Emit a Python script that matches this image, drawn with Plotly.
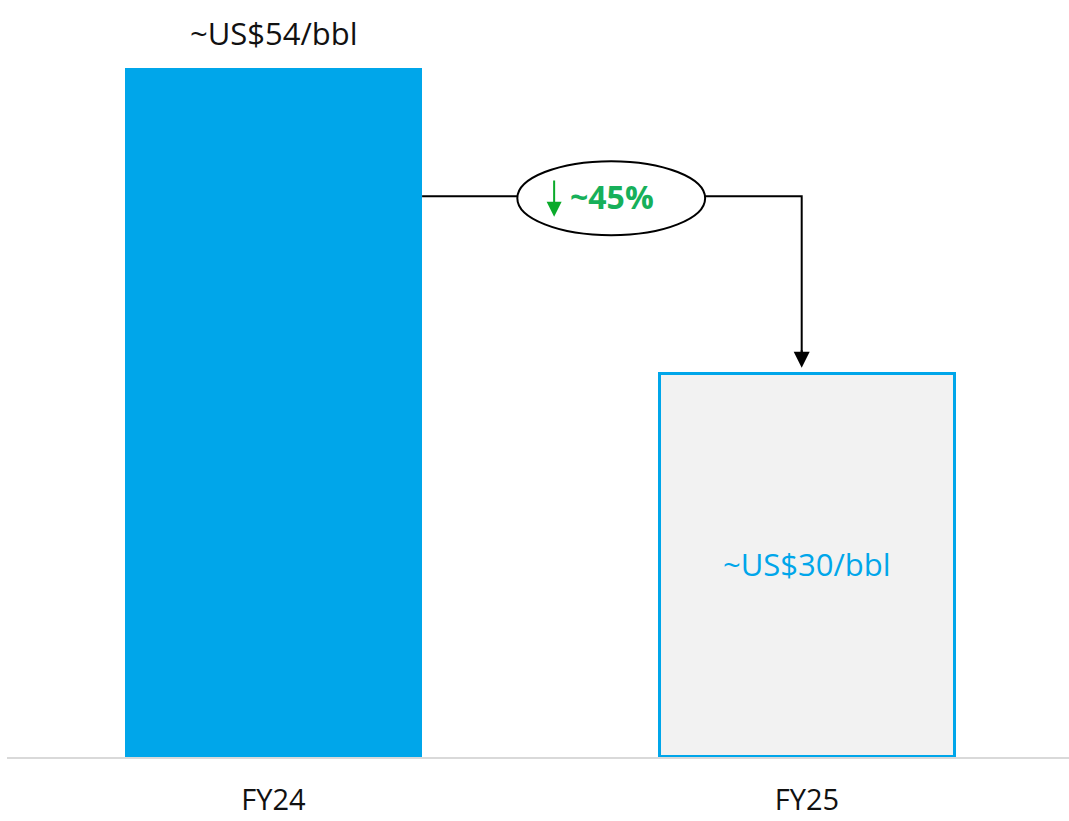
import plotly.graph_objects as go

# Realised price per barrel by fiscal year
years = ["FY24", "FY25"]
prices = [54, 30]
price_labels = ["~US$54/bbl", "~US$30/bbl"]
change_label = "~45%"

BLUE = "#00A6EA"
GREEN_TXT = "#17B05A"
GREEN_ARROW = "#0AAA2A"
FONT = "Open Sans, Noto Sans, sans-serif"

bar_width = 0.557
connector_y = 43.95     # height of the bracket linking the two bars
bracket_x = 0.99        # where the bracket drops onto the FY25 bar
pill_x, pill_w, pill_h = 0.633, 0.352, 5.8

fig = go.Figure()

fig.add_trace(go.Bar(
    x=years, y=prices, width=[bar_width, bar_width - 0.004],
    marker=dict(color=[BLUE, "#F2F2F2"],
                line=dict(color=[BLUE, BLUE], width=[0, 3])),
    hoverinfo="skip", showlegend=False,
))

# Labels: above the first bar, inside the second bar
fig.add_annotation(x=0, y=prices[0], text=price_labels[0], showarrow=False,
                   yanchor="bottom", yshift=12, font=dict(size=31, color="#111111", family=FONT))
fig.add_annotation(x=1, y=prices[1] * 0.505, text=price_labels[1], showarrow=False,
                   font=dict(size=31, color=BLUE, family=FONT))

# Bracket from FY24 bar to FY25 bar
x0 = bar_width / 2
fig.add_shape(type="path", xref="x", yref="y",
              path=f"M {x0},{connector_y} L {bracket_x},{connector_y} L {bracket_x},{prices[1] + 1.2}",
              line=dict(color="black", width=2))
fig.add_annotation(x=bracket_x, y=prices[1] + 0.5, ax=bracket_x, ay=prices[1] + 2,
                   axref="x", ayref="y", xref="x", yref="y", text="", showarrow=True,
                   arrowhead=2, arrowsize=1.6, arrowwidth=2, arrowcolor="black")

# Change pill
fig.add_shape(type="circle", xref="x", yref="y",
              x0=pill_x - pill_w / 2, x1=pill_x + pill_w / 2,
              y0=connector_y - 0.15 - pill_h / 2, y1=connector_y - 0.15 + pill_h / 2,
              fillcolor="white", line=dict(color="black", width=2))
fig.add_annotation(x=pill_x + 0.0, y=connector_y, text=f"<b>{change_label}</b>", showarrow=False,
                   xshift=1, font=dict(size=32, color=GREEN_TXT, family=FONT))
fig.add_annotation(x=pill_x - 0.107, y=connector_y - 1.6, ax=pill_x - 0.107, ay=connector_y + 1.35,
                   axref="x", ayref="y", xref="x", yref="y", text="", showarrow=True,
                   arrowhead=2, arrowsize=1.5, arrowwidth=2, arrowcolor=GREEN_ARROW)

fig.update_layout(
    width=1069, height=821,
    margin=dict(l=7, r=0, t=0, b=64),
    paper_bgcolor="white", plot_bgcolor="white",
    bargap=0,
    xaxis=dict(range=[-0.4995, 1.491], showgrid=False, zeroline=False,
               showline=True, linecolor="#D9D9D9", linewidth=2,
               ticks="", ticklabelstandoff=16, automargin=False,
               tickfont=dict(size=29, color="#111111", family=FONT)),
    yaxis=dict(range=[0, 59.33], visible=False, showgrid=False, zeroline=False,
               automargin=False),
)

fig.write_html("out.html")
